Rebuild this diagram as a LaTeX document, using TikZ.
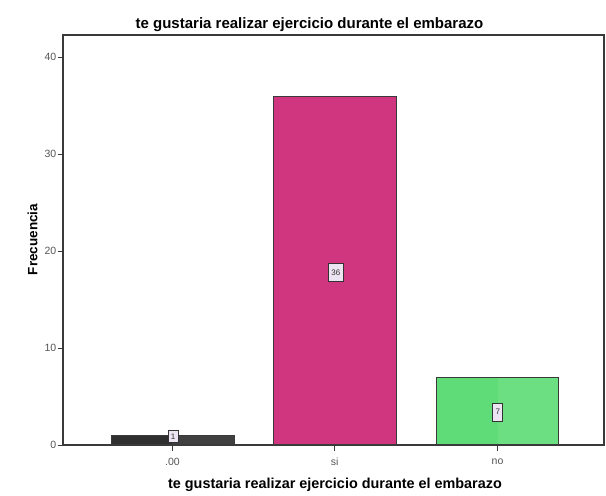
\documentclass[tikz,border=0pt]{standalone}
\usepackage{fontspec}
\setmainfont{Liberation Sans}
\usetikzlibrary{positioning}
\definecolor{framec}{HTML}{3A3A3A}
\definecolor{barA}{HTML}{2F2F2F}
\definecolor{barB}{HTML}{D0357F}
\definecolor{barC}{HTML}{5FDC78}
\definecolor{boxfill}{HTML}{ECE4F2}
\definecolor{ticklab}{HTML}{555555}
\tikzset{
  framel/.style={draw=framec, line width=1.1pt},
  bar/.style={draw=framec, line width=0.9pt},
  ticklbl/.style={font=\fontsize{10.5}{11}\selectfont, text=ticklab, inner sep=1pt},
  vallbl/.style={draw=black!80, line width=0.9pt, fill=boxfill, font=\fontsize{8}{8}\selectfont, inner sep=1pt, text=black!80},
  tickm/.style={draw=framec, line width=0.8pt}
}
\begin{document}
\begin{tikzpicture}[x=1pt,y=-1pt]
\useasboundingbox (0,0) rectangle (606,496);
\fill[white] (0,0) rectangle (606,496);
% title
\node[font=\bfseries\fontsize{15}{16}\selectfont, anchor=base] (title) at (309.5,28) {te gustaria realizar ejercicio durante el embarazo};
% bars
\fill[barA] (111,435.3) rectangle (234,445);
\fill[barA!92!white] (172,435.3) rectangle (234,445);
\draw[bar] (111,435.3) rectangle (234,445);
\fill[barB] (273.5,96) rectangle (396,445);
\draw[bar] (273.5,96) rectangle (396,445);
\fill[barC] (436.5,377.1) rectangle (558.5,445);
\fill[barC!92!white] (497.5,377.1) rectangle (558.5,445);
\draw[bar] (436.5,377.1) rectangle (558.5,445);
\node[coordinate] (b1) at (172.5,445) {};
\node[coordinate] (b2) at (334.7,445) {};
\node[coordinate] (b3) at (497.5,445) {};
% frame
\draw[framel] (63,445) -- (63,35) -- (604,35) -- (604,445) -- cycle;
% y ticks
\foreach \v/\y in {0/445,10/348,20/251,30/154,40/57}{
  \draw[tickm] (57.5,\y) -- (63,\y);
  \node[ticklbl, anchor=east] (yt\v) at (57.5,\y) {\v};
}
% x ticks
\draw[tickm] (b1) -- ++(0,6);
\draw[tickm] (b2) -- ++(0,6);
\draw[tickm] (b3) -- ++(0,6);
\node[ticklbl] (xl1) at (172.5,462) {.00};
\node[ticklbl] (xl2) at (334.7,462) {si};
\node[ticklbl] (xl3) at (497.5,462) {no};
% value labels
\node[vallbl, minimum width=10pt, minimum height=12pt] (v1) at (173,436.5) {1};
\node[vallbl, minimum width=15pt, minimum height=18pt] (v2) at (335.8,272.5) {36};
\node[vallbl, minimum width=10pt, minimum height=18pt] (v3) at (497.8,412) {7};
% axis titles
\node[font=\bfseries\fontsize{14.4}{15}\selectfont, anchor=base] (xtitle) at (335,488) {te gustaria realizar ejercicio durante el embarazo};
\node[font=\bfseries\fontsize{13.5}{14}\selectfont, rotate=90] (ytitle) at (32.5,239.5) {Frecuencia};
\end{tikzpicture}
\end{document}
